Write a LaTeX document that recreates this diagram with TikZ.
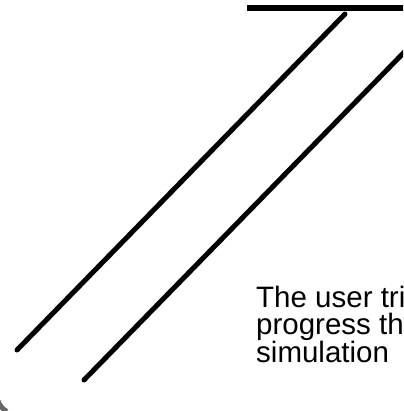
\documentclass[tikz,border=0pt]{standalone}
\usepackage{fontspec}
\setmainfont{Liberation Sans}
\begin{document}
\begin{tikzpicture}[x=1pt,y=-1pt,
  stroke/.style={line width=5pt,line cap=round,black},
  grayarc/.style={line width=5pt,draw=black!60},
  txt/.style={anchor=base west,inner sep=0pt,font=\fontsize{29.5pt}{30pt}\selectfont}]
\useasboundingbox (0,0) rectangle (403,411);
\clip (0,0) rectangle (403,411);
\coordinate (h1) at (247,8);
\coordinate (h2) at (410,8);
\coordinate (a1) at (345,14);
\coordinate (a2) at (17,350);
\coordinate (b1) at (420,36);
\coordinate (b2) at (84,380);
\draw[line width=6pt] (h1) -- (h2);
\draw[stroke] (a1) -- (a2);
\draw[stroke] (b1) -- (b2);
\draw[grayarc] (-2,401) arc[start angle=160,end angle=120,radius=20];
\node[txt] (t1) at (256,307) {The user tries to};
\node[txt] (t2) at (256,334.5) {progress through the};
\node[txt] (t3) at (256,362) {simulation};
\end{tikzpicture}
\end{document}
